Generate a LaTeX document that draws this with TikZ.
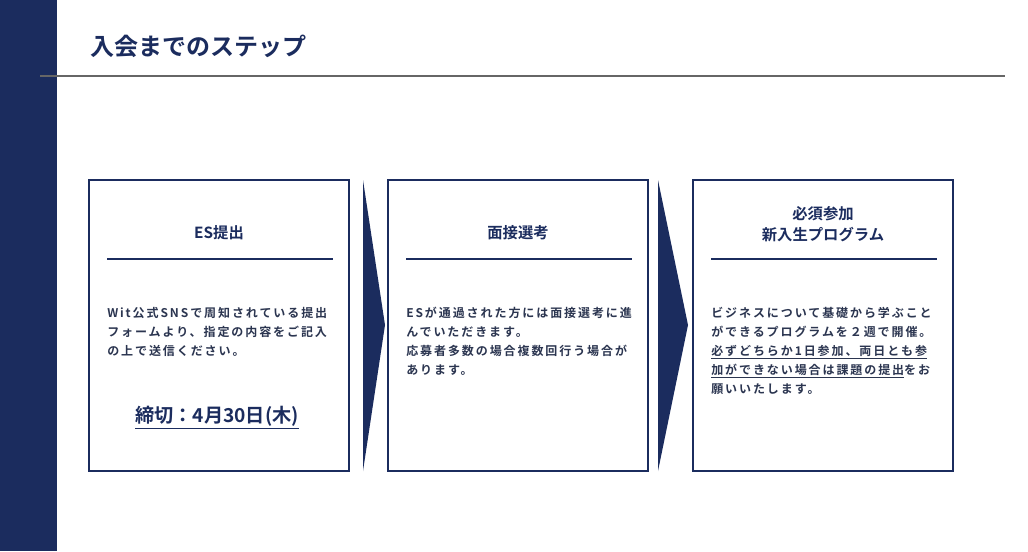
\documentclass[tikz,border=0pt]{standalone}
\usepackage{fontspec}
\setmainfont{Noto Sans CJK JP}[BoldFont={Noto Sans CJK JP Bold}]
\newfontfamily\spaced{Noto Sans CJK JP Bold}[LetterSpace=16]
\usepackage{xcolor}
\definecolor{navy}{HTML}{1B2C5E}
\definecolor{bodytxt}{HTML}{2B3550}
\usetikzlibrary{positioning}
\tikzset{
  stepbox/.style={draw=navy, line width=1pt},
  headtxt/.style={font=\bfseries\fontsize{11.5}{16}\selectfont, text=navy, align=center},
  bodytext/.style={font=\spaced\fontsize{9}{14.2}\selectfont, text=bodytxt, align=left, anchor=north west, inner sep=0pt},
  chevron/.style={fill=navy}
}
\newcommand{\ul}[1]{\underline{#1}}
\begin{document}
\begin{tikzpicture}[x=0.75pt,y=-0.75pt]
  \useasboundingbox (0,0) rectangle (1028,551);
  \fill[white] (0,0) rectangle (1028,551);
  \fill[navy] (0,0) rectangle (57,551);

  % title
  \node[anchor=west, font=\bfseries\fontsize{18}{20}\selectfont, text=navy] (title) at (86,46) {入会までのステップ};
  \draw[gray!80!black, line width=0.8pt] (40,76) -- (1005,76);

  % boxes
  \draw[stepbox] (89,180) rectangle (349,471);
  \draw[stepbox] (388,180) rectangle (648,471);
  \draw[stepbox] (693,180) rectangle (953,471);

  % chevrons
  \fill[chevron] (363,180) -- (385,325) -- (363,471) -- cycle;
  \fill[chevron] (658,180) -- (688,325) -- (658,471) -- cycle;

  % headers
  \node[headtxt] (h1) at (219,233) {ES提出};
  \node[headtxt] (h2) at (518,233) {面接選考};
  \node[headtxt] (h3) at (823,224) {必須参加\\新入生プログラム};
  \foreach \xa/\xb in {107/333, 406/632, 711/937}
    \draw[navy, line width=1.5pt] (\xa,259) -- (\xb,259);

  % body texts
  \node[bodytext] (b1) at (107,307) {Wit公式SNSで周知されている提出\\フォームより、指定の内容をご記入\\の上で送信ください。};
  \node[font=\bfseries\fontsize{14.4}{16}\selectfont, text=navy] (dl) at (217,418) {\ul{締切：4月30日(木)}};
  \node[bodytext] (b2) at (406,307) {ESが通過された方には面接選考に進\\んでいただきます。\\応募者多数の場合複数回行う場合が\\あります。};
  \node[bodytext] (b3) at (711,307) {ビジネスについて基礎から学ぶこと\\ができるプログラムを２週で開催。\\\ul{必ずどちらか1日参加、両日とも参}\\\ul{加ができない場合は課題の提出}をお\\願いいたします。};
\end{tikzpicture}
\end{document}
